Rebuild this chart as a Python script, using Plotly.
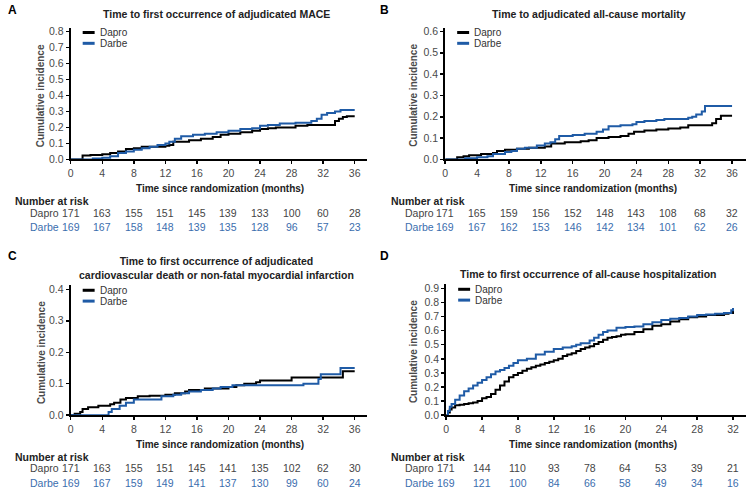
import plotly.graph_objects as go

W, H = 748, 496

# ---------------- data ----------------
# Panel A: MACE
A_dapro_t = [0, 1.5, 2.5, 4, 5, 6, 7, 8, 9, 12, 12.5, 13, 15, 16.5, 18, 19, 20, 21.5, 23, 24, 25, 26, 28.5, 30, 33.5, 34, 34.5, 35, 36]
A_dapro_v = [0, 0.025, 0.028, 0.032, 0.04, 0.05, 0.065, 0.07, 0.08, 0.085, 0.09, 0.11, 0.12, 0.13, 0.14, 0.155, 0.16, 0.17, 0.18, 0.19, 0.195, 0.20, 0.21, 0.215, 0.24, 0.255, 0.265, 0.27, 0.27]
A_darbe_t = [0, 2.8, 4, 5, 6, 7, 8, 9, 10, 11, 12, 12.5, 13.2, 14, 15.5, 17, 18.5, 20, 21.5, 23, 24, 25, 26.5, 28.5, 30.5, 31.2, 31.8, 32.5, 33.5, 34.2, 36]
A_darbe_v = [0, 0.005, 0.01, 0.02, 0.04, 0.05, 0.06, 0.07, 0.08, 0.09, 0.10, 0.11, 0.13, 0.145, 0.155, 0.16, 0.17, 0.18, 0.19, 0.195, 0.21, 0.215, 0.225, 0.23, 0.24, 0.255, 0.28, 0.29, 0.30, 0.31, 0.31]

# Panel B: all-cause mortality
B_dapro_t = [0, 1.5, 2.3, 3, 4.5, 6, 6.5, 7.5, 9, 10.5, 12.5, 13.3, 15, 17, 18, 19, 20.5, 22, 23, 23.7, 25, 26.5, 28, 29.5, 30.5, 33.5, 34, 34.6, 36]
B_dapro_v = [0, 0.01, 0.015, 0.02, 0.025, 0.03, 0.04, 0.045, 0.05, 0.055, 0.06, 0.075, 0.08, 0.085, 0.09, 0.10, 0.105, 0.11, 0.12, 0.13, 0.135, 0.14, 0.145, 0.15, 0.16, 0.17, 0.19, 0.205, 0.205]
B_darbe_t = [0, 2.5, 4, 5.3, 6, 7.5, 8.3, 9, 10, 11.5, 12.5, 13.2, 13.8, 14.3, 16, 17.5, 19, 19.8, 20.5, 22, 23.5, 24, 25, 26.5, 27.5, 30.5, 31, 31.5, 32.2, 32.6, 36]
B_darbe_v = [0, 0.005, 0.01, 0.015, 0.025, 0.035, 0.04, 0.05, 0.055, 0.065, 0.075, 0.08, 0.095, 0.11, 0.115, 0.12, 0.13, 0.14, 0.155, 0.16, 0.165, 0.175, 0.18, 0.185, 0.19, 0.195, 0.20, 0.21, 0.225, 0.25, 0.25]

# Panel C: CV death or non-fatal MI
C_dapro_t = [0, 0.5, 1.2, 1.5, 2.2, 3.5, 5, 5.5, 6.3, 7, 8.5, 10, 12, 13.2, 14.5, 15, 17, 20, 21, 22, 23.5, 24, 28, 34.5, 36]
C_dapro_v = [0, 0.005, 0.01, 0.02, 0.025, 0.03, 0.035, 0.04, 0.05, 0.055, 0.06, 0.062, 0.065, 0.07, 0.075, 0.08, 0.085, 0.09, 0.095, 0.10, 0.105, 0.11, 0.12, 0.14, 0.14]
C_darbe_t = [0, 4.8, 5.2, 6.2, 7, 8, 11.5, 13, 14, 15, 16.5, 18, 19, 20.5, 29.5, 31.4, 31.7, 34.2, 36]
C_darbe_v = [0, 0.01, 0.02, 0.03, 0.04, 0.05, 0.06, 0.065, 0.07, 0.075, 0.08, 0.085, 0.09, 0.095, 0.10, 0.115, 0.13, 0.15, 0.15]

# Panel D: all-cause hospitalization
D_dapro_t = [0, 0.2, 0.4, 0.6, 1.0, 1.5, 2.0, 2.5, 3.0, 3.5, 4.0, 4.5, 5.0, 5.5, 6.0, 6.5, 7.0, 7.5, 8.0, 8.5, 9.0, 9.5, 10, 10.5, 11, 11.5, 12, 12.5, 13, 13.5, 14, 14.5, 15, 15.5, 16, 16.5, 17, 17.5, 18, 18.5, 19, 19.5, 20, 21, 22, 23, 24, 25, 26, 27, 28, 29, 30, 31, 31.5, 32]
D_dapro_v = [0, 0.02, 0.04, 0.055, 0.07, 0.075, 0.08, 0.085, 0.09, 0.10, 0.12, 0.13, 0.15, 0.18, 0.21, 0.24, 0.27, 0.285, 0.30, 0.315, 0.33, 0.34, 0.35, 0.36, 0.37, 0.38, 0.39, 0.40, 0.42, 0.43, 0.44, 0.455, 0.47, 0.48, 0.49, 0.505, 0.52, 0.535, 0.55, 0.555, 0.56, 0.57, 0.575, 0.59, 0.61, 0.635, 0.645, 0.665, 0.68, 0.695, 0.70, 0.71, 0.71, 0.72, 0.725, 0.74]
D_darbe_t = [0, 0.2, 0.4, 0.6, 1.0, 1.5, 2.0, 2.5, 3.0, 3.5, 4.0, 4.5, 5.0, 5.5, 6.0, 6.5, 7.0, 7.5, 8.0, 9, 10, 11, 12, 13, 14, 14.5, 15, 16, 16.5, 17, 17.5, 18, 19, 20, 21, 22, 23, 24, 25, 26, 27, 28, 29, 30, 31, 31.8, 32]
D_darbe_v = [0, 0.03, 0.06, 0.08, 0.11, 0.14, 0.17, 0.19, 0.21, 0.23, 0.25, 0.27, 0.29, 0.31, 0.32, 0.335, 0.35, 0.37, 0.39, 0.40, 0.43, 0.45, 0.47, 0.48, 0.49, 0.50, 0.51, 0.53, 0.55, 0.57, 0.59, 0.60, 0.62, 0.625, 0.63, 0.645, 0.66, 0.675, 0.685, 0.69, 0.70, 0.71, 0.715, 0.72, 0.725, 0.745, 0.76]

# Number at risk
risk_times_36 = [0, 4, 8, 12, 16, 20, 24, 28, 32, 36]
risk_times_32 = [0, 4, 8, 12, 16, 20, 24, 28, 32]
A_risk_dapro = [171, 163, 155, 151, 145, 139, 133, 100, 60, 28]
A_risk_darbe = [169, 167, 158, 148, 139, 135, 128, 96, 57, 23]
B_risk_dapro = [171, 165, 159, 156, 152, 148, 143, 108, 68, 32]
B_risk_darbe = [169, 167, 162, 153, 146, 142, 134, 101, 62, 26]
C_risk_dapro = [171, 163, 155, 151, 145, 141, 135, 102, 62, 30]
C_risk_darbe = [169, 167, 159, 149, 141, 137, 130, 99, 60, 24]
D_risk_dapro = [171, 144, 110, 93, 78, 64, 53, 39, 21]
D_risk_darbe = [169, 121, 100, 84, 66, 58, 49, 34, 16]

titles = {
    "A": "Time to first occurrence of adjudicated MACE",
    "B": "Time to adjudicated all-cause mortality",
    "C": "Time to first occurrence of adjudicated<br>cardiovascular death or non-fatal myocardial infarction",
    "D": "Time to first occurrence of all-cause hospitalization",
}
series_names = ["Dapro", "Darbe"]

# ---------------- style ----------------
FONT = "Liberation Sans, Arial, sans-serif"
BLACK = "#000000"
BLUE = "#1f5ba6"
BLUE_TXT = "#3b6eae"
GREY = "#4a4a4a"


def PX(x):
    return x / W


def PY(y):
    return 1 - y / H


panels = {
    "A": dict(x0=68, x1=365, yb=160, yt=26, xmax=37.5, ymax=0.825, ytv=[i / 10 for i in range(9)], xtv=risk_times_36, ax="1"),
    "B": dict(x0=444, x1=746, yb=160, yt=26, xmax=37.75, ymax=0.618, ytv=[i / 10 for i in range(7)], xtv=risk_times_36, ax="2"),
    "C": dict(x0=68, x1=365, yb=420, yt=288, xmax=37.5, ymax=0.4125, ytv=[i / 10 for i in range(5)], xtv=risk_times_36, ax="3"),
    "D": dict(x0=445, x1=746, yb=420, yt=287, xmax=33.45, ymax=0.928, ytv=[i / 10 for i in range(10)], xtv=risk_times_32, ax="4"),
}

curves = {
    "A": [(A_dapro_t, A_dapro_v), (A_darbe_t, A_darbe_v)],
    "B": [(B_dapro_t, B_dapro_v), (B_darbe_t, B_darbe_v)],
    "C": [(C_dapro_t, C_dapro_v), (C_darbe_t, C_darbe_v)],
    "D": [(D_dapro_t, D_dapro_v), (D_darbe_t, D_darbe_v)],
}
risks = {
    "A": (risk_times_36, A_risk_dapro, A_risk_darbe),
    "B": (risk_times_36, B_risk_dapro, B_risk_darbe),
    "C": (risk_times_36, C_risk_dapro, C_risk_darbe),
    "D": (risk_times_32, D_risk_dapro, D_risk_darbe),
}

fig = go.Figure()
layout = dict(
    width=W, height=H, margin=dict(l=0, r=0, t=0, b=0),
    paper_bgcolor="white", plot_bgcolor="white", showlegend=False,
    font=dict(family=FONT, color=GREY, size=11),
)
annotations = []
shapes = []

for key, p in panels.items():
    ax = p["ax"]
    xa = "x" if ax == "1" else "x" + ax
    ya = "y" if ax == "1" else "y" + ax
    for (t, v), col, nm in zip(curves[key], [BLACK, BLUE], series_names):
        assert len(t) == len(v)
        fig.add_trace(go.Scatter(x=t, y=v, mode="lines", line=dict(color=col, width=2, shape="hv"),
                                 name=nm, xaxis=xa, yaxis=ya, cliponaxis=False, hoverinfo="skip"))
    xname = "xaxis" if ax == "1" else "xaxis" + ax
    yname = "yaxis" if ax == "1" else "yaxis" + ax
    layout[xname] = dict(
        domain=[PX(p["x0"]), PX(p["x1"])], range=[0, p["xmax"]], anchor=ya,
        tickvals=p["xtv"], ticks="outside", ticklen=3, tickwidth=1.5, tickcolor=BLACK,
        showline=True, linecolor=BLACK, linewidth=2, showgrid=False, zeroline=False,
        tickfont=dict(size=10.5, color=GREY, family=FONT), fixedrange=True,
    )
    layout[yname] = dict(
        domain=[PY(p["yb"]), PY(p["yt"])], range=[0, p["ymax"]], anchor=xa,
        tickvals=p["ytv"], tickformat=".1f", ticks="outside", ticklen=3, tickwidth=1.5, tickcolor=BLACK,
        showline=True, linecolor=BLACK, linewidth=2, showgrid=False, zeroline=False,
        tickfont=dict(size=10.5, color=GREY, family=FONT), fixedrange=True,
    )

    left = 0 if key in ("A", "C") else 374
    top = 0 if key in ("A", "B") else 250
    annotations.append(dict(text="<b>%s</b>" % key, x=PX(left + 3), y=PY(top + 8), xref="paper", yref="paper",
                            xanchor="left", yanchor="middle", showarrow=False,
                            font=dict(size=12, color=BLACK, family=FONT)))
    if key == "C":
        ty = top + 20
    elif key == "D":
        ty = top + 26
    else:
        ty = top + 12
    annotations.append(dict(text="<b>%s</b>" % titles[key], x=PX(left + 214), y=PY(ty), xref="paper", yref="paper",
                            xanchor="center", yanchor="middle", showarrow=False,
                            font=dict(size=10.5, color="#222222", family=FONT)))
    annotations.append(dict(text="<b>Cumulative incidence</b>", x=PX(left + 38), y=PY((p["yb"] + p["yt"]) / 2 + 2),
                            xref="paper", yref="paper", xanchor="center", yanchor="middle", textangle=-90,
                            showarrow=False, font=dict(size=10, color=GREY, family=FONT)))
    xt_y = p["yb"] + 30
    annotations.append(dict(text="<b>Time since randomization (months)</b>", x=PX(left + 218), y=PY(xt_y),
                            xref="paper", yref="paper", xanchor="center", yanchor="middle", showarrow=False,
                            font=dict(size=10, color="#222222", family=FONT)))
    annotations.append(dict(text="<b>Number at risk</b>", x=PX(left + 10 + (4 if left else 0)), y=PY(xt_y + 12),
                            xref="paper", yref="paper", xanchor="left", yanchor="middle", showarrow=False,
                            font=dict(size=10.5, color="#222222", family=FONT)))
    rt, rd, rb = risks[key]
    row_y = [xt_y + 24, xt_y + 39]
    for nm, vals, col, yy in zip(series_names, [rd, rb], ["#444444", BLUE_TXT], row_y):
        annotations.append(dict(text=nm, x=PX(left + 25 + (3 if left else 0)), y=PY(yy), xref="paper", yref="paper",
                                xanchor="left", yanchor="middle", showarrow=False,
                                font=dict(size=10.5, color=col, family=FONT)))
        for t, n in zip(rt, vals):
            annotations.append(dict(text=str(n), x=t, y=PY(yy), xref=xa, yref="paper",
                                    xanchor="center", yanchor="middle", showarrow=False,
                                    font=dict(size=10.5, color=col, family=FONT)))
    lx0 = p["x0"] + 12
    ly = p["yt"] + 5
    for i, (nm, col) in enumerate(zip(series_names, [BLACK, BLUE])):
        yy = ly + i * 11
        shapes.append(dict(type="line", xref="paper", yref="paper", x0=PX(lx0), x1=PX(lx0 + 12),
                           y0=PY(yy), y1=PY(yy), line=dict(color=col, width=3)))
        annotations.append(dict(text=nm, x=PX(lx0 + 15), y=PY(yy), xref="paper", yref="paper",
                                xanchor="left", yanchor="middle", showarrow=False,
                                font=dict(size=10, color="#333333", family=FONT)))

layout["annotations"] = annotations
layout["shapes"] = shapes
fig.update_layout(**layout)
fig.write_html("out.html", config={"displayModeBar": False, "staticPlot": True},
               post_script="document.body.style.margin='0';document.body.style.padding='0';document.documentElement.style.overflow='hidden';")
